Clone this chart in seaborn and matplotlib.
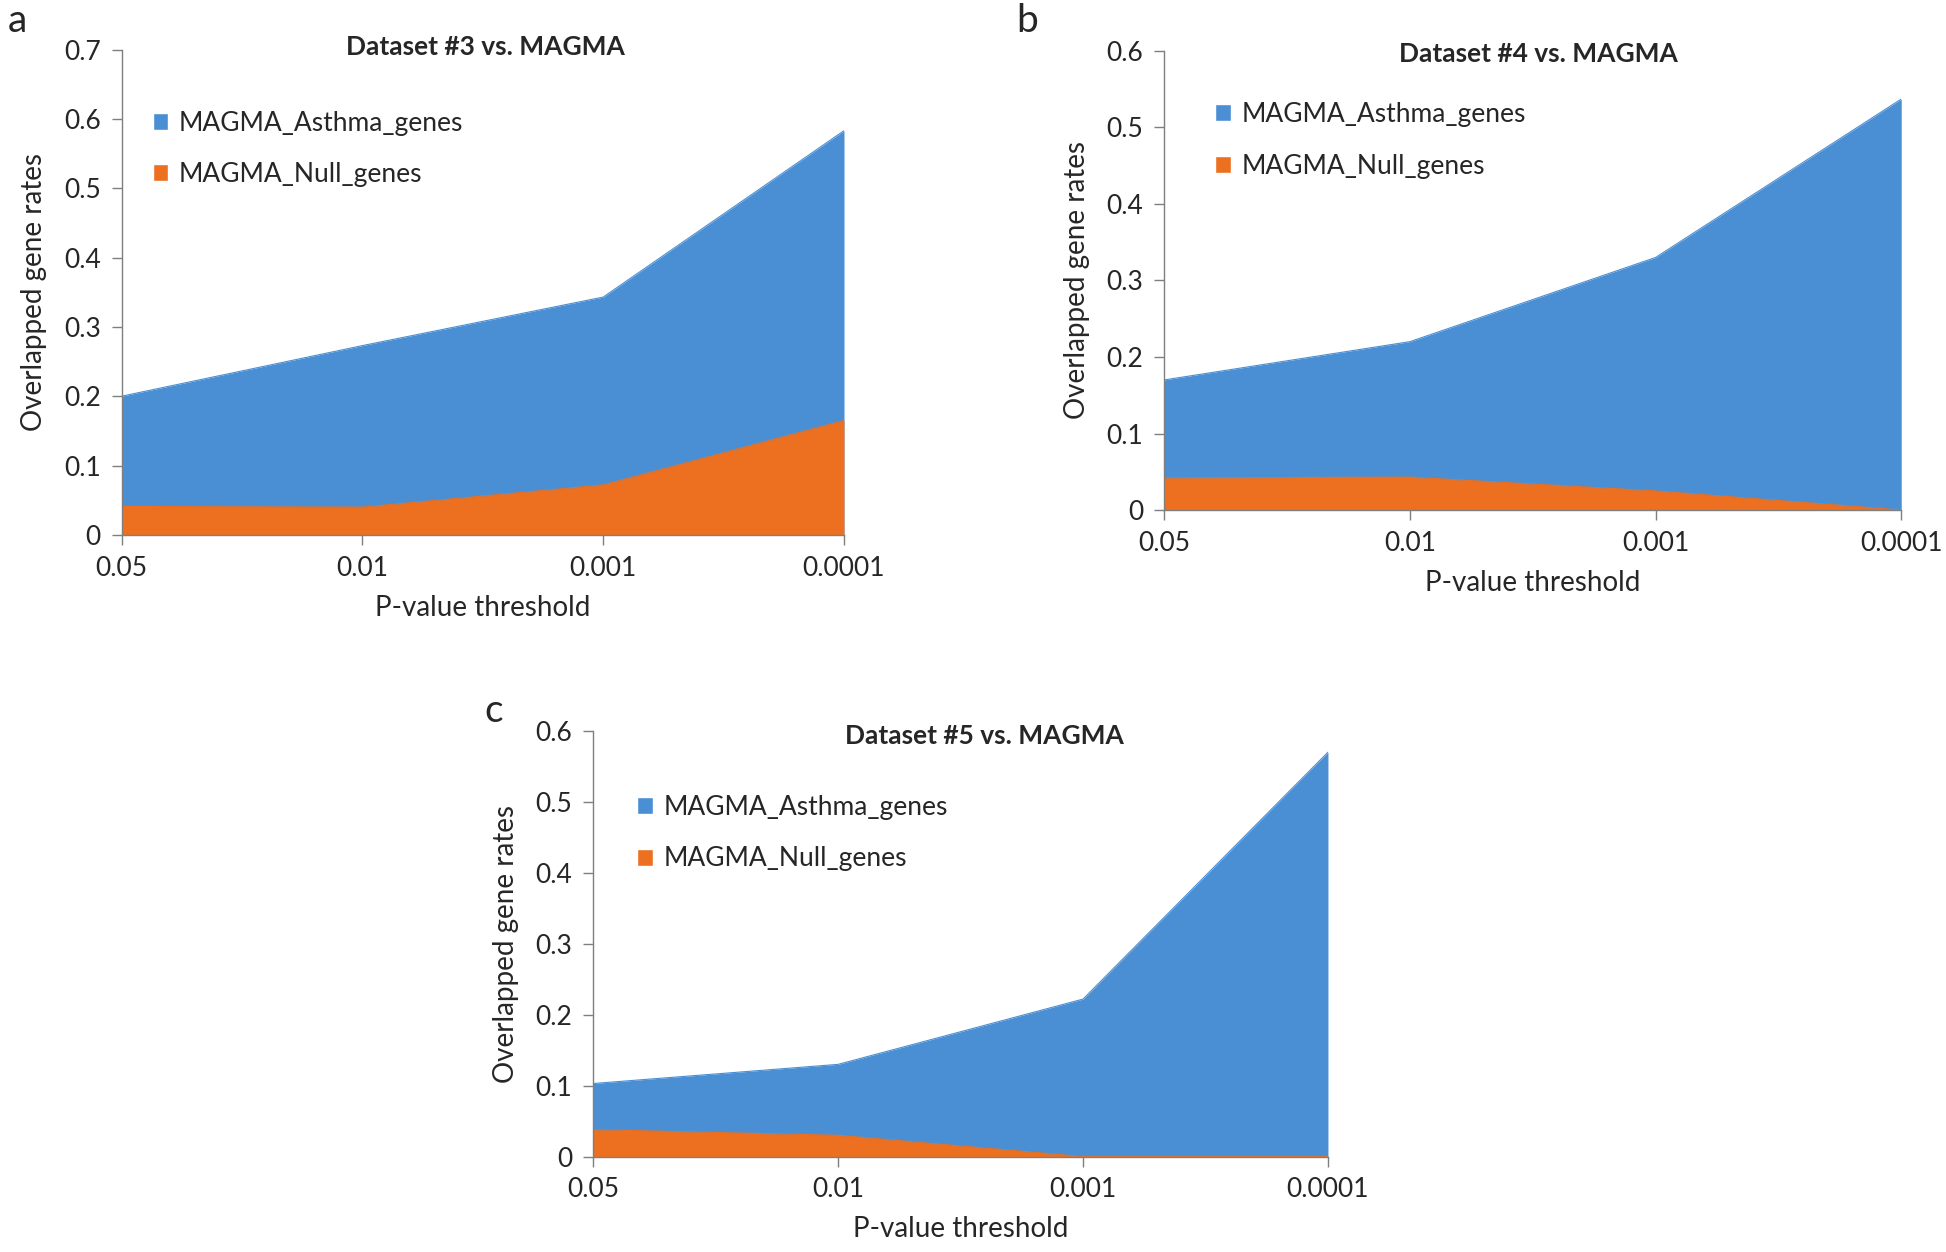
import numpy as np
import pandas as pd
import seaborn as sns
import matplotlib.pyplot as plt
from matplotlib.patches import Patch

# Datos
umbrales = ["0.05", "0.01", "0.001", "0.0001"]

asma_d3 = [0.200, 0.273, 0.343, 0.583]
nulo_d3 = [0.041, 0.040, 0.072, 0.165]

asma_d4 = [0.170, 0.220, 0.330, 0.537]
nulo_d4 = [0.042, 0.043, 0.025, 0.000]

asma_d5 = [0.103, 0.130, 0.222, 0.570]
nulo_d5 = [0.038, 0.030, 0.000, 0.000]

titulos = ["Dataset #3 vs. MAGMA", "Dataset #4 vs. MAGMA", "Dataset #5 vs. MAGMA"]
letras = ["a", "b", "c"]
ymax = [0.7, 0.6, 0.6]

AZUL = "#4a8fd3"
NARANJA = "#ec7020"

sns.set_theme(style="white")
plt.rcParams["font.family"] = ["Lato", "DejaVu Sans"]


def panel(ax, asma, nulo, titulo, tope, pos_titulo, pos_leyenda):
    df = pd.DataFrame({"x": np.arange(len(umbrales)), "asma": asma, "nulo": nulo})

    # Área azul detrás, naranja delante (no apiladas)
    ax.fill_between(df["x"], 0, df["asma"], color=AZUL, linewidth=0)
    ax.fill_between(df["x"], 0, df["nulo"], color=NARANJA, linewidth=0)
    sns.lineplot(data=df, x="x", y="asma", ax=ax, color=AZUL, linewidth=0.8)
    sns.lineplot(data=df, x="x", y="nulo", ax=ax, color=NARANJA, linewidth=0.8)

    ax.set_xlim(0, 3)
    ax.set_ylim(0, tope)
    ax.set_xticks(range(len(umbrales)))
    ax.set_xticklabels(umbrales)
    yt = np.round(np.arange(0, tope + 0.001, 0.1), 1)
    ax.set_yticks(yt)
    ax.set_yticklabels(["0"] + [f"{v:.1f}" for v in yt[1:]])

    ax.set_xlabel("P-value threshold", fontsize=20, labelpad=10)
    ax.set_ylabel("Overlapped gene rates", fontsize=20, labelpad=12)
    ax.text(pos_titulo[0], pos_titulo[1], titulo, transform=ax.transAxes,
            ha="center", va="center", fontsize=19, fontweight="bold")

    for lado in ["top", "right"]:
        ax.spines[lado].set_visible(False)
    for lado in ["left", "bottom"]:
        ax.spines[lado].set_color("#7f7f7f")
        ax.spines[lado].set_linewidth(1.0)
    ax.tick_params(axis="both", labelsize=19, length=7, width=1.0, color="#7f7f7f",
                   direction="out", bottom=True, left=True, pad=8)

    manijas = [Patch(facecolor=AZUL, label="MAGMA_Asthma_genes"),
               Patch(facecolor=NARANJA, label="MAGMA_Null_genes")]
    ax.legend(handles=manijas, loc="upper left", bbox_to_anchor=pos_leyenda,
              frameon=False, fontsize=19, handlelength=0.6, handleheight=0.6,
              handletextpad=0.4, labelspacing=1.0)


fig = plt.figure(figsize=(19.46, 12.52), dpi=100)
ax_a = fig.add_axes([0.0625, 0.5728, 0.3712, 0.3876])
ax_b = fig.add_axes([0.5982, 0.5926, 0.3788, 0.3668])
ax_c = fig.add_axes([0.3048, 0.0762, 0.3776, 0.3400])

panel(ax_a, asma_d3, nulo_d3, titulos[0], ymax[0], (0.504, 1.005), (0.01, 0.923))
panel(ax_b, asma_d4, nulo_d4, titulos[1], ymax[1], (0.508, 0.994), (0.037, 0.94))
panel(ax_c, asma_d5, nulo_d5, titulos[2], ymax[2], (0.532, 0.988), (0.028, 0.905))

fig.text(0.004, 0.983, letras[0], fontsize=28, va="center")
fig.text(0.522, 0.983, letras[1], fontsize=28, va="center")
fig.text(0.249, 0.432, letras[2], fontsize=28, va="center")

plt.savefig("out.png", dpi=100)
plt.close()
